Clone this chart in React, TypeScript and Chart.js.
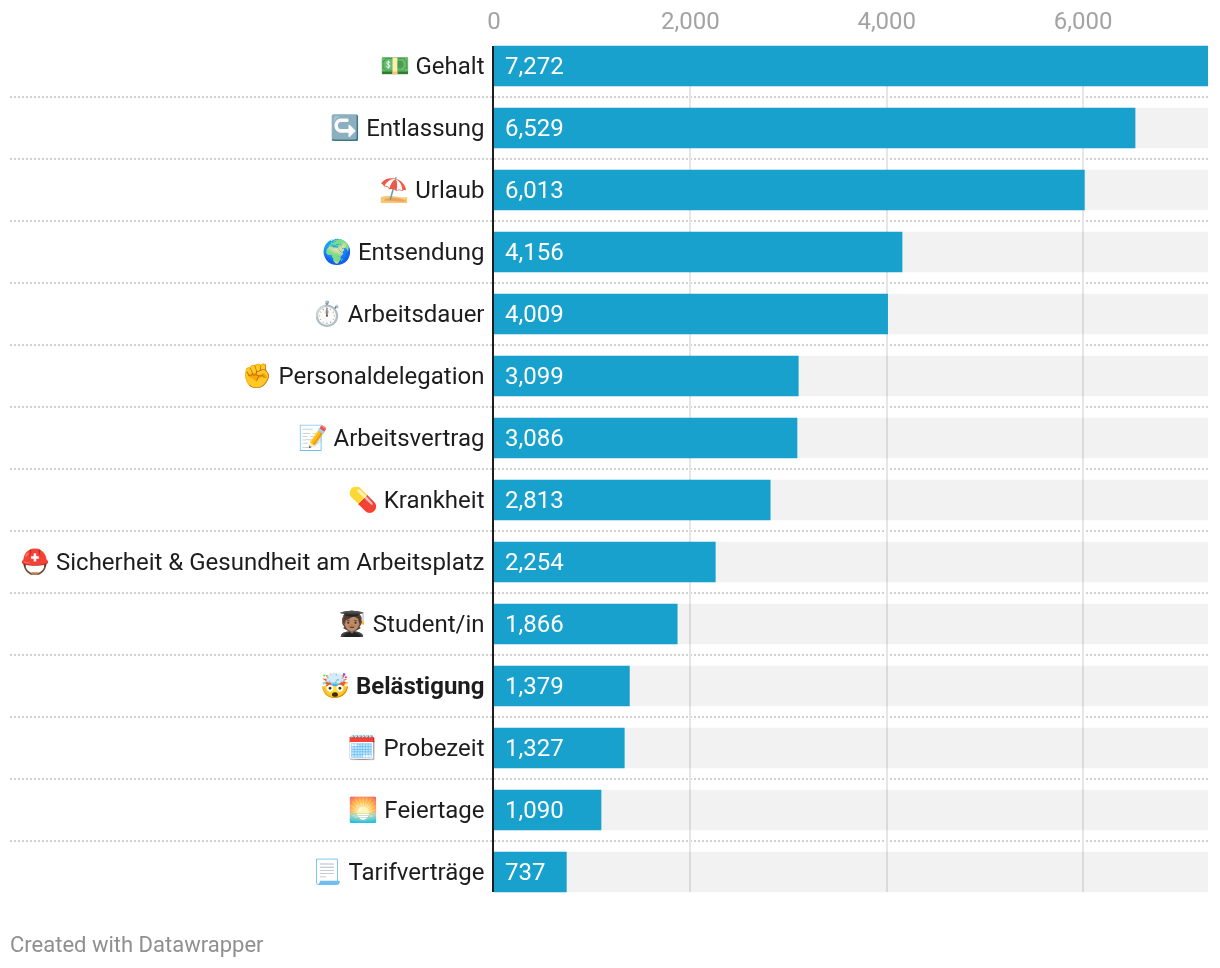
import React, { useEffect, useRef } from "react";
import { Chart, registerables } from "chart.js";

Chart.register(...registerables);

const categories = [
  "💵 Gehalt",
  "↪️ Entlassung",
  "⛱️ Urlaub",
  "🌍 Entsendung",
  "⏱️ Arbeitsdauer",
  "✊ Personaldelegation",
  "📝 Arbeitsvertrag",
  "💊 Krankheit",
  "⛑️ Sicherheit & Gesundheit am Arbeitsplatz",
  "🧑🏽‍🎓 Student/in",
  "🤯 Belästigung",
  "🗓️ Probezeit",
  "🌅 Feiertage",
  "📃 Tarifverträge",
];
const values = [7272, 6529, 6013, 4156, 4009, 3099, 3086, 2813, 2254, 1866, 1379, 1327, 1090, 737];
const tickValues = [0, 2000, 4000, 6000];
const boldCategory = "🤯 Belästigung";
const axisMax = 7272;

const FONT = "Roboto, sans-serif";

const linesPlugin = {
  id: "dwLines",
  beforeDatasetsDraw(chart: any) {
    const { ctx, chartArea } = chart;
    const x = chart.scales.x;
    const bars = chart.getDatasetMeta(1).data;
    const half = bars[0].height / 2;
    const top = bars[0].y - half;
    const bottom = bars[bars.length - 1].y + half;
    ctx.save();
    // dotted separators between the rows
    ctx.strokeStyle = "#d2d2d2";
    ctx.lineWidth = 2;
    ctx.setLineDash([2, 2]);
    for (let i = 0; i < bars.length - 1; i++) {
      const y = Math.round((bars[i].y + bars[i + 1].y) / 2);
      ctx.beginPath();
      ctx.moveTo(10, y);
      ctx.lineTo(chartArea.right, y);
      ctx.stroke();
    }
    // vertical grid lines
    ctx.setLineDash([]);
    ctx.strokeStyle = "#e6e6e6";
    for (const v of tickValues) {
      if (v === 0) continue;
      const px = Math.round(x.getPixelForValue(v));
      ctx.beginPath();
      ctx.moveTo(px, top);
      ctx.lineTo(px, bottom);
      ctx.stroke();
    }
    ctx.restore();
  },
  afterDatasetsDraw(chart: any) {
    const { ctx } = chart;
    const x = chart.scales.x;
    const bars = chart.getDatasetMeta(1).data;
    const half = bars[0].height / 2;
    const x0 = x.getPixelForValue(0);
    ctx.save();
    // value labels
    ctx.fillStyle = "#ffffff";
    ctx.font = `400 24px ${FONT}`;
    ctx.textAlign = "left";
    ctx.textBaseline = "middle";
    bars.forEach((bar: any, i: number) => {
      ctx.fillText(values[i].toLocaleString("en-US"), x0 + 11, bar.y + 2);
    });
    // baseline
    ctx.strokeStyle = "#1d1d1d";
    ctx.lineWidth = 2;
    ctx.beginPath();
    ctx.moveTo(x0 - 1, bars[0].y - half);
    ctx.lineTo(x0 - 1, bars[bars.length - 1].y + half);
    ctx.stroke();
    ctx.restore();
  },
};

export default function App() {
  const ref = useRef<HTMLCanvasElement>(null);
  useEffect(() => {
    const chart = new Chart(ref.current as HTMLCanvasElement, {
      type: "bar",
      data: {
        labels: categories,
        datasets: [
          {
            label: "Hintergrund",
            data: categories.map(() => axisMax),
            backgroundColor: "rgba(0,0,0,0.05)",
            barThickness: 40,
            grouped: false,
            order: 2,
          },
          {
            label: "Anzahl",
            data: values,
            backgroundColor: "#18a1cd",
            barThickness: 40,
            grouped: false,
            order: 1,
          },
        ],
      },
      options: {
        indexAxis: "y",
        responsive: false,
        animation: false,
        layout: { padding: { left: 0, right: 12, top: 0, bottom: 65 } },
        plugins: { legend: { display: false }, tooltip: { enabled: false } },
        scales: {
          x: {
            position: "top",
            min: 0,
            max: axisMax,
            afterFit: (s: any) => {
              s.height = 35;
            },
            afterBuildTicks: (s: any) => {
              s.ticks = tickValues.map((value) => ({ value }));
            },
            grid: { display: false, drawTicks: false },
            border: { display: false },
            ticks: {
              autoSkip: false,
              maxRotation: 0,
              padding: -2,
              color: "#a3a3a3",
              font: { family: FONT, size: 24 },
              callback: (v: any) => Number(v).toLocaleString("en-US"),
            },
          },
          y: {
            afterFit: (s: any) => {
              s.width = 494;
            },
            grid: { display: false, drawTicks: false },
            border: { display: false },
            ticks: {
              autoSkip: false,
              padding: 9.5,
              labelOffset: 2,
              color: "#1d1d1d",
              font: (ctx: any) => ({
                family: FONT,
                size: 24,
                weight: categories[ctx.index] === boldCategory ? "700" : "400",
              }),
            },
          },
        },
      },
      plugins: [linesPlugin],
    } as any);
    return () => chart.destroy();
  }, []);
  return (
    <div style={{ position: "fixed", left: 0, top: 0, width: 1220, height: 968, background: "#fff", overflow: "hidden" }}>
      <canvas ref={ref} width={1220} height={968} style={{ display: "block" }} />
      <div
        style={{
          position: "absolute",
          left: 10,
          top: 932,
          fontFamily: FONT,
          fontSize: 22,
          lineHeight: "26px",
          color: "#8f8f8f",
          whiteSpace: "nowrap",
        }}
      >
        Created with Datawrapper
      </div>
    </div>
  );
}
